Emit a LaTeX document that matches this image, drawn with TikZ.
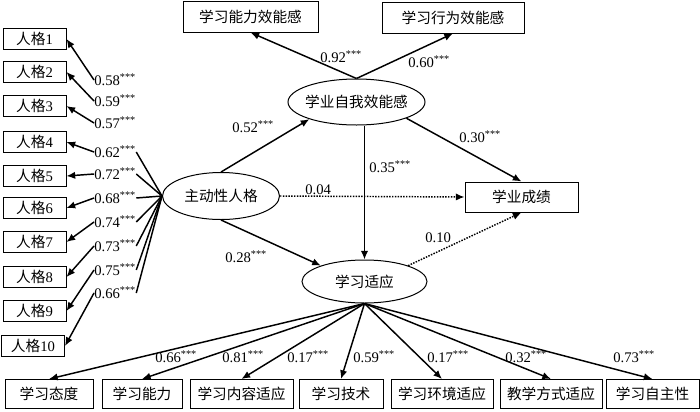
\documentclass[tikz,border=0pt]{standalone}
\usepackage{fontspec}
\setmainfont{Liberation Serif}
\newfontfamily\cjk{Noto Sans CJK SC}
\usetikzlibrary{shapes.geometric, arrows.meta}
\tikzset{
  obs/.style={draw, rectangle, inner sep=0pt, line width=.75pt, font=\fontsize{11}{13}\selectfont},
  cn/.style={font=\fontsize{11}{13}\selectfont\cjk},
  lat/.style={draw, ellipse, inner sep=0pt, line width=.75pt},
  coef/.style={anchor=west, inner sep=0pt, font=\fontsize{11}{13}\selectfont},
  arr/.style={-{Latex[length=6.5pt, width=5.5pt]}, line width=1.1pt},
}
\begin{document}
\begin{tikzpicture}[x=.75pt, y=-.75pt]
	\useasboundingbox (0,0) rectangle (700,411);
	% personality items
	\node[obs, minimum width=47.25pt, minimum height=15.75pt] (p1) at (34.5,39) {{\cjk 人格}1};
	\node[obs, minimum width=47.25pt, minimum height=15.75pt] (p2) at (34.5,72) {{\cjk 人格}2};
	\node[obs, minimum width=47.25pt, minimum height=15.75pt] (p3) at (34.5,106) {{\cjk 人格}3};
	\node[obs, minimum width=47.25pt, minimum height=15.75pt] (p4) at (34.5,142) {{\cjk 人格}4};
	\node[obs, minimum width=47.25pt, minimum height=15.75pt] (p5) at (34.5,176) {{\cjk 人格}5};
	\node[obs, minimum width=47.25pt, minimum height=15.75pt] (p6) at (34.5,208) {{\cjk 人格}6};
	\node[obs, minimum width=47.25pt, minimum height=15.75pt] (p7) at (34.5,242) {{\cjk 人格}7};
	\node[obs, minimum width=47.25pt, minimum height=15.75pt] (p8) at (34.5,277) {{\cjk 人格}8};
	\node[obs, minimum width=47.25pt, minimum height=15.75pt] (p9) at (34.5,311) {{\cjk 人格}9};
	\node[obs, minimum width=47.25pt, minimum height=15.75pt] (p10) at (33,346) {{\cjk 人格}10};
	% latent variables
	\node[lat, minimum width=87.75pt, minimum height=35.25pt, label={[cn]center:主动性人格}] (pp) at (221,196) {};
	\node[lat, minimum width=102.75pt, minimum height=34.5pt, label={[cn]center:学业自我效能感}] (se) at (356.5,102) {};
	\node[lat, minimum width=93.75pt, minimum height=32.25pt, label={[cn]center:学习适应}] (ad) at (364.5,281.5) {};
	% other boxes
	\node[obs, cn, minimum width=101.25pt, minimum height=23.25pt] (ab) at (250.5,16.5) {学习能力效能感};
	\node[obs, cn, minimum width=106.5pt, minimum height=23.25pt] (bh) at (453,17.5) {学习行为效能感};
	\node[obs, cn, minimum width=84.75pt, minimum height=22.5pt] (gc) at (521.5,197) {学业成绩};
	\node[obs, cn, minimum width=66pt, minimum height=21.75pt] (b1) at (49,394) {学习态度};
	\node[obs, cn, minimum width=60pt, minimum height=21.75pt] (b2) at (142,394) {学习能力};
	\node[obs, cn, minimum width=77.25pt, minimum height=21.75pt] (b3) at (241.5,394) {学习内容适应};
	\node[obs, cn, minimum width=63pt, minimum height=21.75pt] (b4) at (341,394) {学习技术};
	\node[obs, cn, minimum width=76.5pt, minimum height=21.75pt] (b5) at (442,394) {学习环境适应};
	\node[obs, cn, minimum width=76.5pt, minimum height=21.75pt] (b6) at (551,394) {教学方式适应};
	\node[obs, cn, minimum width=69.75pt, minimum height=21.75pt] (b7) at (652.5,394) {学习自主性};
	% loadings of personality
	\node[coef] (l1) at (94,80) {0.58\textsuperscript{***}};
	\node[coef] (l2) at (94,101) {0.59\textsuperscript{***}};
	\node[coef] (l3) at (94,123) {0.57\textsuperscript{***}};
	\node[coef] (l4) at (94,152) {0.62\textsuperscript{***}};
	\node[coef] (l5) at (94,174) {0.72\textsuperscript{***}};
	\node[coef] (l6) at (94,198) {0.68\textsuperscript{***}};
	\node[coef] (l7) at (94,222) {0.74\textsuperscript{***}};
	\node[coef] (l8) at (94,246) {0.73\textsuperscript{***}};
	\node[coef] (l9) at (94,270) {0.75\textsuperscript{***}};
	\node[coef] (l10) at (94,293) {0.66\textsuperscript{***}};
	% path coefficients
	\node[coef] (c92) at (320,57) {0.92\textsuperscript{***}};
	\node[coef] (c60) at (408,62) {0.60\textsuperscript{***}};
	\node[coef] (c52) at (232,127) {0.52\textsuperscript{***}};
	\node[coef] (c28) at (225,257) {0.28\textsuperscript{***}};
	\node[coef] (c04) at (305,190) {0.04};
	\node[coef] (c35) at (369,167) {0.35\textsuperscript{***}};
	\node[coef] (c30) at (459,137) {0.30\textsuperscript{***}};
	\node[coef] (c10) at (425,238) {0.10};
	% loadings of adaptation
	\node[coef] (a1) at (155,357) {0.66\textsuperscript{***}};
	\node[coef] (a2) at (222,357) {0.81\textsuperscript{***}};
	\node[coef] (a3) at (287,357) {0.17\textsuperscript{***}};
	\node[coef] (a4) at (353,357) {0.59\textsuperscript{***}};
	\node[coef] (a5) at (427,357) {0.17\textsuperscript{***}};
	\node[coef] (a6) at (505,357) {0.32\textsuperscript{***}};
	\node[coef] (a7) at (613,357) {0.73\textsuperscript{***}};
	% arrows to personality items
	\draw[arr] (l1.west) -- (p1.east);
	\draw[arr] (l2.west) -- (p2.east);
	\draw[arr] (l3.west) -- (p3.east);
	\draw[line width=1.1pt] (pp.west) -- (l4.east);
	\draw[line width=1.1pt] (pp.west) -- (l5.east);
	\draw[line width=1.1pt] (pp.west) -- (l6.east);
	\draw[line width=1.1pt] (pp.west) -- (l7.east);
	\draw[line width=1.1pt] (pp.west) -- (l8.east);
	\draw[line width=1.1pt] (pp.west) -- (l9.east);
	\draw[line width=1.1pt] (pp.west) -- (l10.east);
	\draw[arr] (l4.west) -- (p4.east);
	\draw[arr] (l5.west) -- (p5.east);
	\draw[arr] (l6.west) -- (p6.east);
	\draw[arr] (l7.west) -- (p7.east);
	\draw[arr] (l8.west) -- (p8.east);
	\draw[arr] (l9.west) -- (p9.east);
	\draw[arr] (l10.west) -- (p10.east);
	% structural paths
	\draw[arr] (pp.north) -- (se.200);
	\draw[arr] (pp.south) -- (ad.160);
	\draw[arr, densely dotted] (pp.east) -- (gc.west);
	\draw[arr] (se.north) -- (ab.south);
	\draw[arr] (se.north) -- (bh.south);
	\draw[arr] (se.-18) -- (gc.north);
	\draw[arr] (se.south -| ad.north) -- (ad.north);
	\draw[arr, densely dotted] (ad.20) -- (gc.south);
	% arrows to adaptation items
	\draw[arr] (ad.south) -- (b1.north);
	\draw[arr] (ad.south) -- (b2.north);
	\draw[arr] (ad.south) -- (b3.north);
	\draw[arr] (ad.south) -- (b4.north);
	\draw[arr] (ad.south) -- (b5.north);
	\draw[arr] (ad.south) -- (b6.north);
	\draw[arr] (ad.south) -- (b7.north);
\end{tikzpicture}
\end{document}
